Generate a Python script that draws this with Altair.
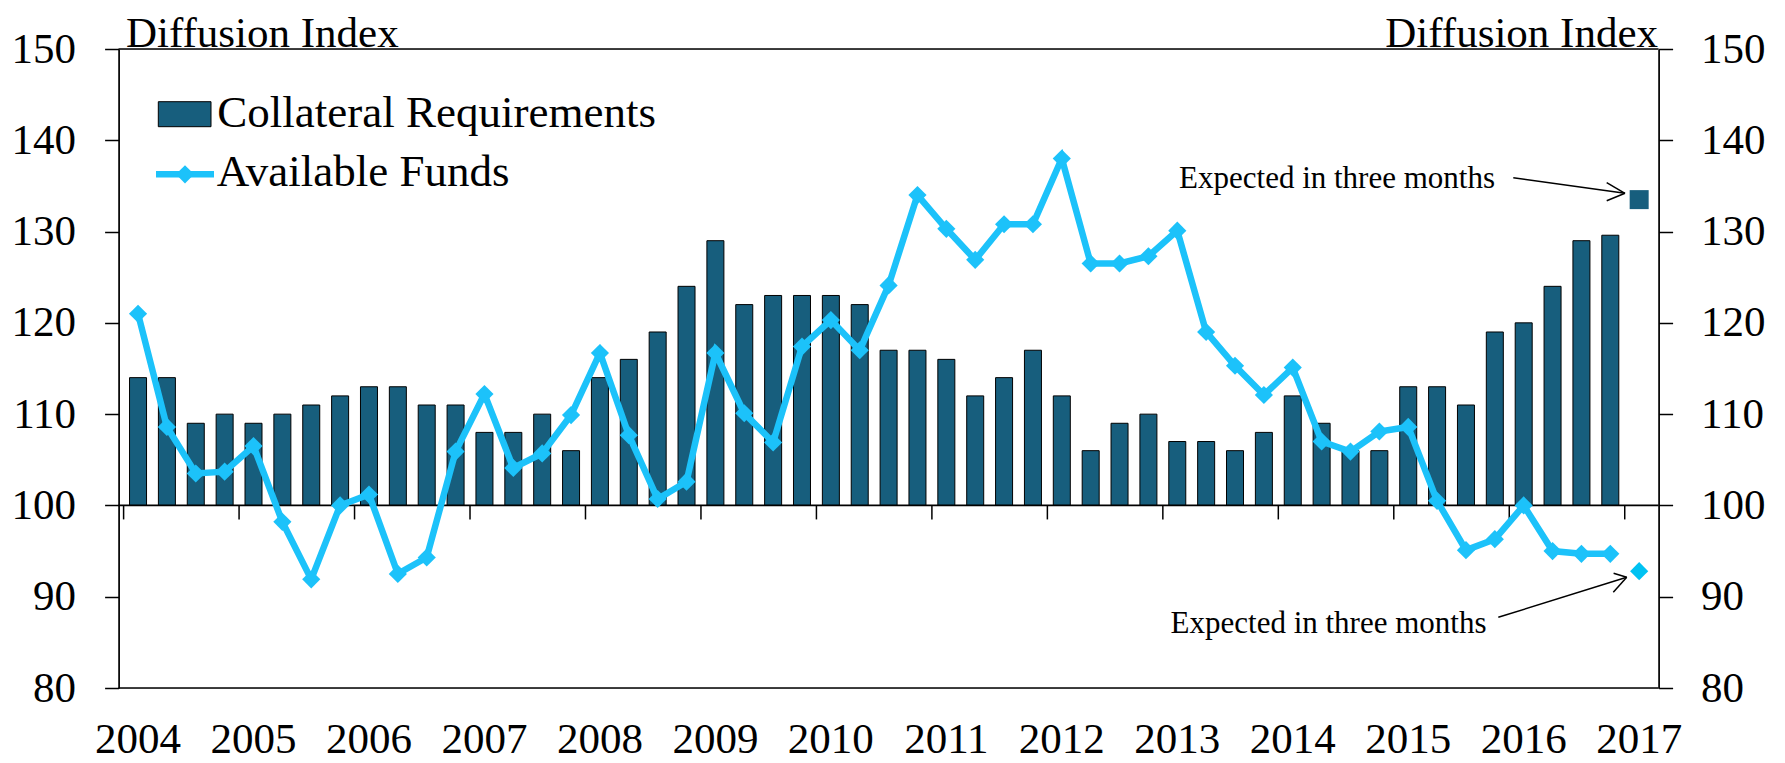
import altair as alt
import pandas as pd

# ---------------- data ----------------
years = ["2004", "2005", "2006", "2007", "2008", "2009", "2010",
         "2011", "2012", "2013", "2014", "2015", "2016", "2017"]

# quarterly, 2004Q1 .. 2016Q4
collateral = [114, 114, 109, 110, 109, 110, 111, 112, 113, 113, 111, 111,
              108, 108, 110, 106, 114, 116, 119, 124, 129, 122, 123, 123,
              123, 122, 117, 117, 116, 112, 114, 117, 112, 106, 109, 110,
              107, 107, 106, 108, 112, 109, 106, 106, 113, 113, 111, 119,
              120, 124, 129, 129.6]
funds = [121.0, 108.6, 103.5, 103.7, 106.5, 98.2, 91.9, 100.0,
         101.2, 92.5, 94.3, 105.9, 112.2, 104.1, 105.7, 109.9,
         116.7, 107.7, 100.7, 102.6, 116.7, 110.1, 106.9, 117.4,
         120.3, 117.0, 124.1, 134.0, 130.3, 126.9, 130.8, 130.8,
         138.0, 126.5, 126.5, 127.3, 130.1, 119.0, 115.3, 112.1,
         115.1, 107.0, 105.9, 108.1, 108.6, 100.5, 95.1, 96.3,
         100.0, 95.0, 94.7, 94.7]
expected_collateral = [133.5]
expected_funds = [92.8]

y_ticks = [80, 90, 100, 110, 120, 130, 140, 150]
legend_labels = ["Collateral Requirements", "Available Funds"]
axis_title = "Diffusion Index"
note = "Expected in three months"

# ---------------- styling ----------------
FONT = "Liberation Serif"
BAR = "#175E7D"
CYAN = "#1CC2FA"
CYAN2 = "#00C2F2"
W, H = 1540, 639
BASE = 100

n = len(collateral)
df = pd.DataFrame({"q": [i + 0.5 for i in range(n)],
                   "collateral": collateral, "funds": funds})
exp = pd.DataFrame({"q": [n + 0.5], "collateral": expected_collateral,
                    "funds": expected_funds})
one = pd.DataFrame({"a": [0]})
borders = pd.DataFrame({"b": [y_ticks[0], y_ticks[-1]]})
xticks = pd.DataFrame({"t": [4 * i for i in range(len(years))]})
xlabels = pd.DataFrame({"q": [4 * i + 0.5 for i in range(len(years))], "year": years})

xscale = alt.Scale(domain=[0, n + 1], nice=False, zero=False)
yscale = alt.Scale(domain=[y_ticks[0], y_ticks[-1]], nice=False, zero=False)

base_px = H * (y_ticks[-1] - BASE) / (y_ticks[-1] - y_ticks[0])  # pixel row of y=100


def y_axis(orient, pad):
    return alt.Axis(orient=orient, values=y_ticks, domain=True, domainColor="black",
                    domainWidth=1.7, ticks=True, tickSize=14, tickColor="black",
                    tickWidth=1.5, labelFont=FONT, labelFontSize=43,
                    labelColor="black", labelPadding=pad, grid=False, title=None)


X = alt.X("q:Q", scale=xscale, axis=None)

bars = alt.Chart(df).mark_bar(size=17, color=BAR, stroke="black", strokeWidth=1).encode(
    x=X,
    y=alt.Y("collateral:Q", scale=yscale, axis=y_axis("left", 29)),
    y2=alt.datum(BASE),
)

border = alt.Chart(borders).mark_rule(color="black", strokeWidth=1.5).encode(
    y=alt.Y("b:Q", scale=yscale, axis=None)
)

# category axis crossing at 100
x_domain = alt.Chart(one).mark_rule(color="black", strokeWidth=1.7).encode(
    y=alt.Y(datum=BASE, scale=yscale, axis=None)
)
x_ticks = alt.Chart(xticks).mark_rule(color="black", strokeWidth=1.5).encode(
    x=alt.X("t:Q", scale=xscale, axis=None),
    y=alt.value(base_px), y2=alt.value(base_px + 14),
)
x_labels = alt.Chart(xlabels).mark_text(font=FONT, fontSize=43, color="black",
                                        baseline="alphabetic", align="center").encode(
    x=X, y=alt.value(704), text="year:N"
)

line = alt.Chart(df).mark_line(color=CYAN, strokeWidth=6.5).encode(
    x=X, y=alt.Y("funds:Q", scale=yscale, axis=None)
)
pts = alt.Chart(df).mark_point(shape="diamond", filled=True, size=330, color=CYAN,
                               opacity=1).encode(
    x=X, y=alt.Y("funds:Q", scale=yscale, axis=None)
)
exp_pt = alt.Chart(exp).mark_point(shape="diamond", filled=True, size=330, color=CYAN2,
                                   opacity=1).encode(
    x=X, y=alt.Y("funds:Q", scale=yscale, axis=None)
)
exp_sq = alt.Chart(exp).mark_square(size=361, color=BAR, opacity=1).encode(
    x=X, y=alt.Y("collateral:Q", scale=yscale, axis=y_axis("right", 28))
)


def txt(s, x, y, size, align="left"):
    return alt.Chart(one).mark_text(text=s, font=FONT, fontSize=size, color="black",
                                    align=align, baseline="alphabetic").encode(
        x=alt.value(x), y=alt.value(y))


def seg(x1, y1, x2, y2, w=1.5):
    return alt.Chart(one).mark_rule(color="black", strokeWidth=w).encode(
        x=alt.value(x1), y=alt.value(y1), x2=alt.value(x2), y2=alt.value(y2))


# legend
leg_rect = alt.Chart(one).mark_rect(color=BAR, stroke="black", strokeWidth=1).encode(
    x=alt.value(39.7), x2=alt.value(92.4), y=alt.value(52.7), y2=alt.value(77.7))
leg_line = alt.Chart(one).mark_rule(color=CYAN, strokeWidth=6.5).encode(
    x=alt.value(37.4), x2=alt.value(95.4), y=alt.value(125.3))
leg_pt = alt.Chart(one).mark_point(shape="diamond", filled=True, size=330, color=CYAN,
                                   opacity=1).encode(x=alt.value(66.4), y=alt.value(125.3))

layers = [
    bars, border, x_domain, x_ticks, x_labels, line, pts, exp_pt, exp_sq,
    leg_rect, leg_line, leg_pt,
    txt(legend_labels[0], 98.7, 77.7, 45),
    txt(legend_labels[1], 98.1, 137, 45),
    txt(axis_title, 7.4, -2, 43),
    txt(axis_title, 1539.4, -2, 43, "right"),
    txt(note, 1376.4, 139, 31, "right"),
    txt(note, 1367.9, 584, 31, "right"),
    # arrows
    seg(1394.7, 128.7, 1506.4, 144.3),
    seg(1506.4, 144.3, 1488.1, 133.7),
    seg(1506.4, 144.3, 1488.1, 151.7),
    seg(1379.7, 568.3, 1508.1, 528.3),
    seg(1508.1, 528.3, 1495.0, 524.3),
    seg(1508.1, 528.3, 1494.7, 543.3),
]

chart = alt.layer(*layers).resolve_scale(y="independent").properties(
    width=W, height=H,
    padding={"left": 110.6, "top": 41, "right": 118.4, "bottom": 76},
    autosize=alt.AutoSizeParams(type="none"),
).configure_view(stroke=None).configure(background="white")

chart.save("out.html", embed_options={"renderer": "svg", "actions": False})
